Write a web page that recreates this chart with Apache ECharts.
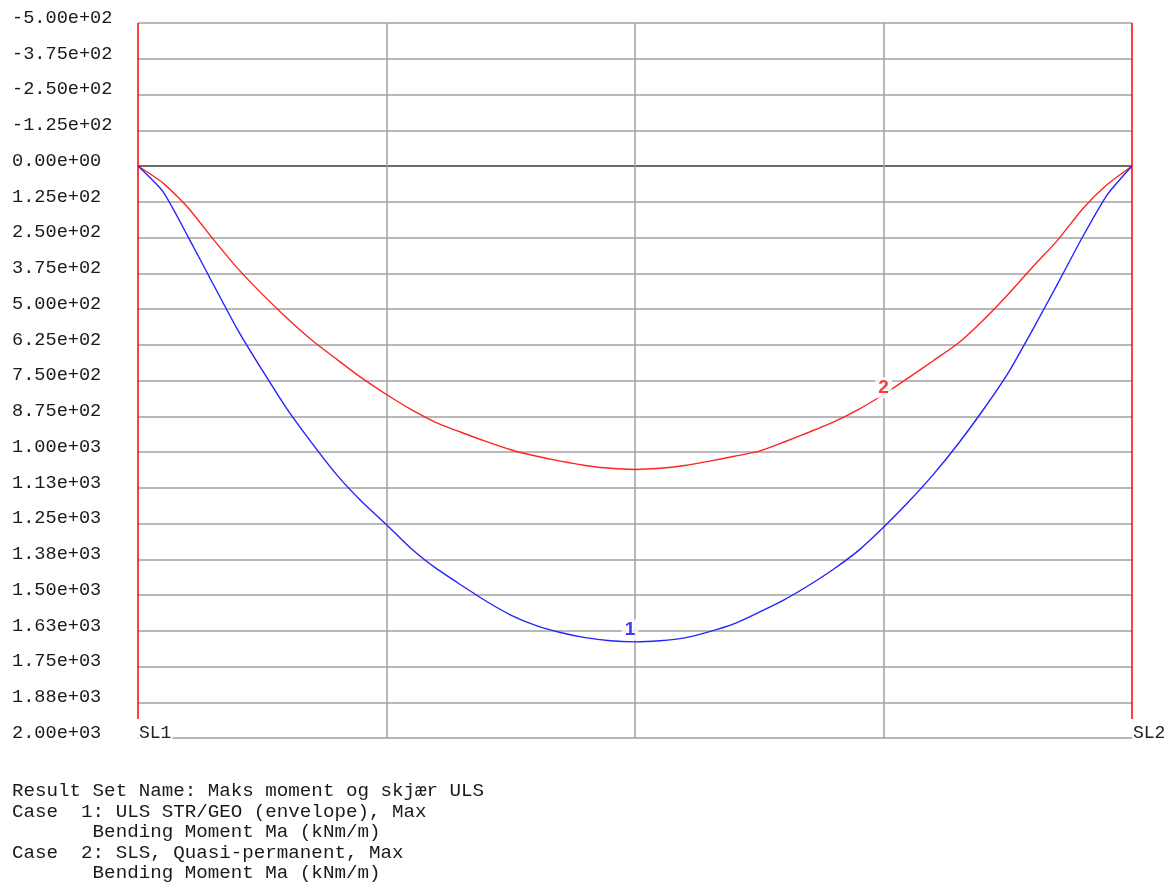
<!DOCTYPE html>
<html>
<head>
<meta charset="utf-8">
<script src="https://cdn.jsdelivr.net/npm/echarts@6/dist/echarts.min.js"></script>
<style>
html,body{margin:0;padding:0;background:#fff;}
#chart{width:1174px;height:886px;}
</style>
</head>
<body>
<div id="chart"></div>
<script>
// ---- data ----
const yTickValues = [-500,-375,-250,-125,0,125,250,375,500,625,750,875,1000,1125,1250,1375,1500,1625,1750,1875,2000];
const yTickLabels = ['-5.00e+02','-3.75e+02','-2.50e+02','-1.25e+02','0.00e+00','1.25e+02','2.50e+02','3.75e+02','5.00e+02','6.25e+02','7.50e+02','8.75e+02','1.00e+03','1.13e+03','1.25e+03','1.38e+03','1.50e+03','1.63e+03','1.75e+03','1.88e+03','2.00e+03'];
const xTickValues = [0, 0.25, 0.5, 0.75, 1];
const supportX = [0, 1];
const supportNames = ['SL1', 'SL2'];
// relative position along the span (SL1 = 0, SL2 = 1)
const spanX = [0,0.025,0.05,0.075,0.1,0.125,0.15,0.175,0.2,0.225,0.25,0.275,0.3,0.325,0.35,0.375,0.4,0.425,0.45,0.475,0.5,
               0.525,0.55,0.575,0.6,0.625,0.65,0.675,0.7,0.725,0.75,0.775,0.8,0.825,0.85,0.875,0.9,0.925,0.95,0.975,1];
// Case 1: ULS STR/GEO (envelope), Max — Bending Moment Ma (kNm/m)
const case1M = [0,89,245,409,571,714,850,969,1080,1173,1254,1338,1407,1465,1521,1570,1606,1631,1649,1660,1664,
                1660,1650,1628,1600,1560,1517,1466,1409,1344,1263,1175,1079,972,854,726,573,413,250,101,0];
// Case 2: SLS, Quasi-permanent, Max — Bending Moment Ma (kNm/m)
const case2M = [0,59,144,253,357,448,532,609,676,741,799,852,897,931,963,992,1014,1032,1047,1057,1061,
                1057,1047,1032,1015,997,965,931,895,851,799,741,681,620,540,450,353,260,151,65,0];
const caseLabelText = ['1', '2'];
const caseLabelX = [0.5, 0.75];
const caseLabelM = [1664, 775];
const footerLines = [
  'Result Set Name: Maks moment og skjær ULS',
  'Case  1: ULS STR/GEO (envelope), Max',
  '       Bending Moment Ma (kNm/m)',
  'Case  2: SLS, Quasi-permanent, Max',
  '       Bending Moment Ma (kNm/m)'
];

const zip = (xs, ys) => xs.map((x, i) => [x, ys[i]]);
const ySplitColors = yTickValues.map(v => v === 0 ? '#3a3a3a' : (v === 2000 ? 'rgba(0,0,0,0)' : '#a0a0a0'));
const xSplitColors = xTickValues.map(v => supportX.indexOf(v) >= 0 ? 'rgba(0,0,0,0)' : '#a0a0a0');

const chart = echarts.init(document.getElementById('chart'), null, {renderer: 'canvas'});
chart.setOption({
  animation: false,
  backgroundColor: '#ffffff',
  grid: {left: 138, right: 42, top: 23, bottom: 148, containLabel: false},
  xAxis: {
    type: 'value', min: 0, max: 1, interval: 0.25, position: 'bottom',
    axisLine: {show: true, onZero: false, lineStyle: {color: '#a0a0a0', width: 1.5}},
    axisTick: {show: false},
    splitLine: {show: true, lineStyle: {color: xSplitColors, width: 1.5}},
    axisLabel: {
      inside: true, margin: 5, align: 'left', verticalAlign: 'middle',
      fontFamily: 'Liberation Mono', fontSize: 18, color: '#222',
      backgroundColor: '#fff', padding: [0, 1, 0, 1],
      showMinLabel: true, showMaxLabel: true,
      formatter: v => { const i = supportX.indexOf(v); return i >= 0 ? supportNames[i] : ''; }
    }
  },
  yAxis: {
    type: 'value', inverse: true, min: -500, max: 2000, interval: 125,
    axisLine: {show: false}, axisTick: {show: false},
    splitLine: {show: true, lineStyle: {color: ySplitColors, width: 1.5}},
    axisLabel: {
      margin: 126, align: 'left', verticalAlign: 'bottom', lineHeight: 10,
      fontFamily: 'Liberation Mono', fontSize: 18.6, color: '#1a1a1a',
      formatter: v => { const i = yTickValues.indexOf(v); return i >= 0 ? yTickLabels[i] : ''; }
    }
  },
  series: [
    {
      name: 'Case 2', type: 'line', data: zip(spanX, case2M),
      showSymbol: false, smooth: 0.2,
      lineStyle: {color: '#ff2424', width: 1.4}, z: 3
    },
    {
      name: 'Case 1', type: 'line', data: zip(spanX, case1M),
      showSymbol: false, smooth: 0.2,
      lineStyle: {color: '#2424ff', width: 1.4}, z: 4
    },
    {
      name: 'supports', type: 'line', data: [], silent: true,
      markLine: {
        silent: true, symbol: 'none', label: {show: false},
        lineStyle: {color: '#ff0000', width: 1.5, type: 'solid'},
        data: supportX.map(x => [{coord: [x, -500]}, {coord: [x, 1934]}])
      },
      z: 5
    },
    {
      name: 'labels', type: 'scatter', symbolSize: 0, silent: true, z: 10,
      data: caseLabelText.map((t, i) => ({
        value: [caseLabelX[i], caseLabelM[i]],
        label: {
          show: true, formatter: t, position: 'inside',
          offset: i === 0 ? [-5, -12] : [0, 0],
          color: i === 0 ? '#0a0aff' : '#ff0a0a',
          fontFamily: 'Liberation Sans', fontWeight: 'bold', fontSize: 19,
          backgroundColor: '#fff', padding: [2, 3, 0, 3]
        }
      }))
    }
  ],
  graphic: [{
    type: 'text', left: 12, top: 781,
    style: {
      text: footerLines.join('\n'),
      fontFamily: 'Liberation Mono', fontSize: 19.2, lineHeight: 20.5,
      fill: '#1a1a1a'
    }
  }]
});
</script>
</body>
</html>
